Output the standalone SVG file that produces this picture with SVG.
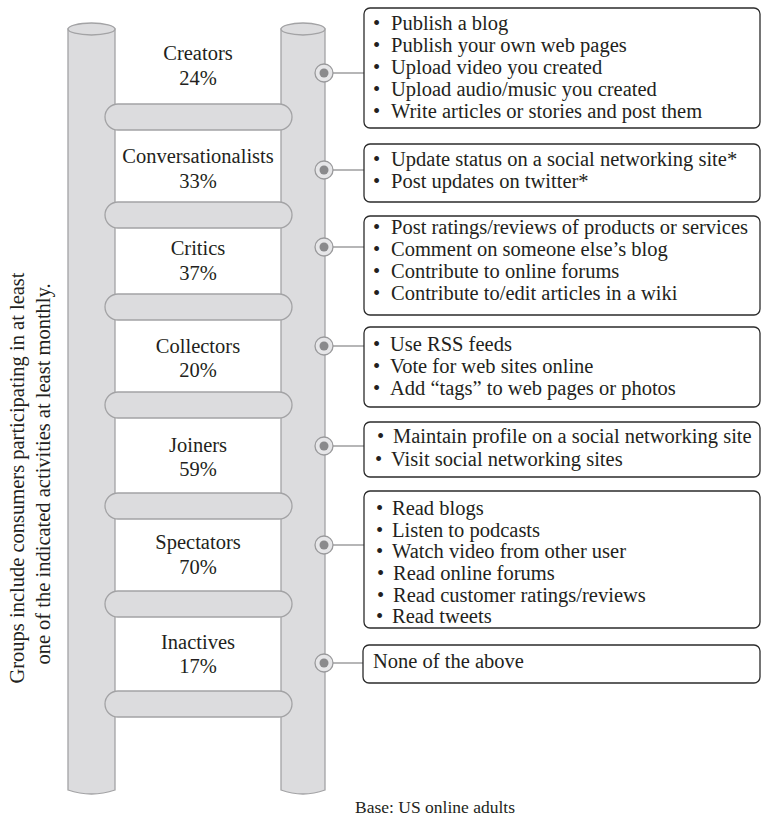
<svg xmlns="http://www.w3.org/2000/svg" width="763" height="821" viewBox="0 0 763 821">
<style>
text{font-family:"Liberation Serif","Times New Roman",serif;fill:#231f20;}
.lbl{font-size:20.5px;text-anchor:middle;}
.item{font-size:20.5px;}
.side{font-size:20.5px;text-anchor:middle;}
.base{font-size:17.5px;text-anchor:middle;}
.pole{fill:#dcdcde;stroke:#a3a3a5;stroke-width:1.3;}
.rung{fill:#dcdcde;stroke:#a3a3a5;stroke-width:1.3;}
.box{fill:#fff;stroke:#2b2b2b;stroke-width:1.3;}
.ring{fill:#e6e6e8;stroke:#9a9a9c;stroke-width:1.3;}
.dot{fill:#8a8a8c;}
.conn{stroke:#8e8e90;stroke-width:1.3;fill:none;}
</style>
<rect width="763" height="821" fill="#fff"/>
<g id="side-note">
<text class="side" transform="translate(24,478) rotate(-90)">Groups include consumers participating in at least</text>
<text class="side" transform="translate(50,474) rotate(-90)">one of the indicated activities at least monthly.</text>
</g>
<g id="ladder">
<path class="pole" d="M68,29 L68,790 Q91.5,798 115,790 L115,29 Z"/>
<ellipse class="pole" cx="91.5" cy="29" rx="23.5" ry="6"/>
<path class="pole" d="M281,29 L281,790 Q303,798 325,790 L325,29 Z"/>
<ellipse class="pole" cx="303" cy="29" rx="22" ry="6"/>
<rect class="rung" x="105" y="104" width="187" height="26" rx="13"/>
<rect class="rung" x="105" y="202" width="187" height="26" rx="13"/>
<rect class="rung" x="105" y="294" width="187" height="26" rx="13"/>
<rect class="rung" x="105" y="392" width="187" height="26" rx="13"/>
<rect class="rung" x="105" y="493" width="187" height="26" rx="13"/>
<rect class="rung" x="105" y="591" width="187" height="26" rx="13"/>
<rect class="rung" x="105" y="691" width="187" height="26" rx="13"/>
</g>
<g id="connectors">
<line class="conn" x1="333" y1="73" x2="364" y2="73"/>
<line class="conn" x1="333" y1="170" x2="364" y2="170"/>
<line class="conn" x1="333" y1="247" x2="364" y2="247"/>
<line class="conn" x1="333" y1="346" x2="364" y2="346"/>
<line class="conn" x1="333" y1="446" x2="364" y2="446"/>
<line class="conn" x1="333" y1="545" x2="364" y2="545"/>
<line class="conn" x1="333" y1="663" x2="364" y2="663"/>
</g>
<g id="creators">
<text class="lbl" x="198" y="60">Creators</text>
<text class="lbl" x="198" y="85">24%</text>
<circle class="ring" cx="324" cy="73" r="9"/><circle class="dot" cx="324" cy="73" r="4.5"/>
<rect class="box" x="364" y="8" width="396" height="120" rx="6"/>
<text class="item" x="373" y="30">•</text><text class="item" x="391" y="30">Publish a blog</text>
<text class="item" x="373" y="52">•</text><text class="item" x="391" y="52">Publish your own web pages</text>
<text class="item" x="373" y="74">•</text><text class="item" x="391" y="74">Upload video you created</text>
<text class="item" x="373" y="96">•</text><text class="item" x="391" y="96">Upload audio/music you created</text>
<text class="item" x="373" y="118">•</text><text class="item" x="391" y="118">Write articles or stories and post them</text>
</g>
<g id="conversationalists">
<text class="lbl" x="198" y="163">Conversationalists</text>
<text class="lbl" x="198" y="188">33%</text>
<circle class="ring" cx="324" cy="170" r="9"/><circle class="dot" cx="324" cy="170" r="4.5"/>
<rect class="box" x="364" y="144" width="396" height="58" rx="6"/>
<text class="item" x="373" y="166">•</text><text class="item" x="391" y="166">Update status on a social networking site*</text>
<text class="item" x="373" y="188">•</text><text class="item" x="391" y="188">Post updates on twitter*</text>
</g>
<g id="critics">
<text class="lbl" x="198" y="255">Critics</text>
<text class="lbl" x="198" y="280">37%</text>
<circle class="ring" cx="324" cy="247" r="9"/><circle class="dot" cx="324" cy="247" r="4.5"/>
<rect class="box" x="364" y="216" width="396" height="99" rx="6"/>
<text class="item" x="373" y="234">•</text><text class="item" x="391" y="234">Post ratings/reviews of products or services</text>
<text class="item" x="373" y="256">•</text><text class="item" x="391" y="256">Comment on someone else’s blog</text>
<text class="item" x="373" y="278">•</text><text class="item" x="391" y="278">Contribute to online forums</text>
<text class="item" x="373" y="300">•</text><text class="item" x="391" y="300">Contribute to/edit articles in a wiki</text>
</g>
<g id="collectors">
<text class="lbl" x="198" y="353">Collectors</text>
<text class="lbl" x="198" y="377">20%</text>
<circle class="ring" cx="324" cy="346" r="9"/><circle class="dot" cx="324" cy="346" r="4.5"/>
<rect class="box" x="364" y="327" width="396" height="80" rx="6"/>
<text class="item" x="373" y="351">•</text><text class="item" x="390" y="351">Use RSS feeds</text>
<text class="item" x="373" y="373">•</text><text class="item" x="390" y="373">Vote for web sites online</text>
<text class="item" x="373" y="395">•</text><text class="item" x="390" y="395">Add “tags” to web pages or photos</text>
</g>
<g id="joiners">
<text class="lbl" x="198" y="452">Joiners</text>
<text class="lbl" x="198" y="476">59%</text>
<circle class="ring" cx="324" cy="446" r="9"/><circle class="dot" cx="324" cy="446" r="4.5"/>
<rect class="box" x="364" y="422" width="396" height="55" rx="6"/>
<text class="item" x="377" y="443">•</text><text class="item" x="393" y="443">Maintain profile on a social networking site</text>
<text class="item" x="375" y="466">•</text><text class="item" x="391" y="466">Visit social networking sites</text>
</g>
<g id="spectators">
<text class="lbl" x="198" y="549">Spectators</text>
<text class="lbl" x="198" y="574">70%</text>
<circle class="ring" cx="324" cy="545" r="9"/><circle class="dot" cx="324" cy="545" r="4.5"/>
<rect class="box" x="364" y="491" width="396" height="137" rx="6"/>
<text class="item" x="376" y="515">•</text><text class="item" x="392" y="515">Read blogs</text>
<text class="item" x="376" y="537">•</text><text class="item" x="392" y="537">Listen to podcasts</text>
<text class="item" x="376" y="558">•</text><text class="item" x="392" y="558">Watch video from other user</text>
<text class="item" x="377" y="580">•</text><text class="item" x="393" y="580">Read online forums</text>
<text class="item" x="377" y="602">•</text><text class="item" x="393" y="602">Read customer ratings/reviews</text>
<text class="item" x="376" y="623">•</text><text class="item" x="392" y="623">Read tweets</text>
</g>
<g id="inactives">
<text class="lbl" x="198" y="649">Inactives</text>
<text class="lbl" x="198" y="673">17%</text>
<circle class="ring" cx="324" cy="663" r="9"/><circle class="dot" cx="324" cy="663" r="4.5"/>
<rect class="box" x="363" y="645" width="397" height="38" rx="6"/>
<text class="item" x="373" y="668">None of the above</text>
</g>
<g id="base-note">
<text class="base" x="435" y="813">Base: US online adults</text>
</g>
</svg>
